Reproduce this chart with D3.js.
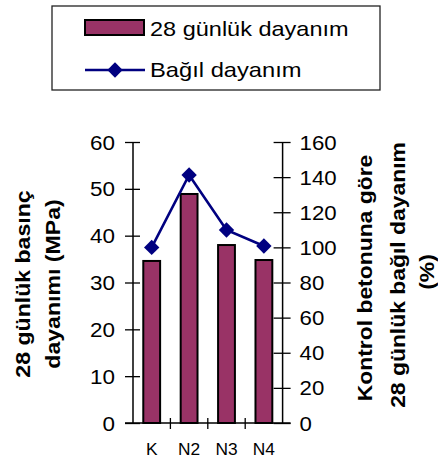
<!DOCTYPE html>
<html><head><meta charset="utf-8">
<script src="https://cdn.jsdelivr.net/npm/d3@7"></script>
<style>html,body{margin:0;padding:0;background:#fff;}svg{display:block;font-family:"Liberation Sans",Arial,sans-serif;}</style>
</head><body>
<svg id="c" width="438" height="460"></svg>
<script>
const categories = ["K", "N2", "N3", "N4"];
const strength = [34.6, 48.9, 38.0, 34.8];          // 28 günlük dayanım (MPa)
const relative = [100, 141.2, 109.9, 100.8];        // Bağıl dayanım (%)
const leftTicks = [0, 10, 20, 30, 40, 50, 60];
const rightTicks = [0, 20, 40, 60, 80, 100, 120, 140, 160];
const seriesNames = ["28 günlük dayanım", "Bağıl dayanım"];
const leftTitle = ["28 günlük basınç", "dayanımı (MPa)"];
const rightTitle = ["Kontrol betonuna göre", "28 günlük bağıl dayanım", "(%)"];

const svg = d3.select("#c");
const L = 133, R = 282.6, T = 142, B = 423;
const barColor = "#993366", lineColor = "#000080";

const x = d3.scaleBand().domain(categories).range([L, R]).paddingInner(0.55).paddingOuter(0.275);
const yL = d3.scaleLinear().domain([0, 60]).range([B, T]);
const yR = d3.scaleLinear().domain([0, 160]).range([B, T]);

function stext(g, tx, ty, txt, size, sx, anchor, weight, rot) {
  return g.append("text")
    .attr("transform", `translate(${tx},${ty})` + (rot ? ` rotate(${rot})` : "") + ` scale(${sx},1)`)
    .attr("text-anchor", anchor).attr("font-size", size).attr("font-weight", weight || "normal")
    .attr("fill", "#000").text(txt);
}

// Bars
svg.append("g").selectAll("rect").data(strength).join("rect")
  .attr("x", (d, i) => x(categories[i])).attr("width", x.bandwidth())
  .attr("y", d => yL(d)).attr("height", d => B - yL(d))
  .attr("fill", barColor).attr("stroke", "#000").attr("stroke-width", 2);

// Left axis
const ga = svg.append("g").attr("transform", `translate(${L},0)`)
  .call(d3.axisLeft(yL).tickValues(leftTicks).tickSize(8).tickFormat(""));
ga.select(".domain").attr("stroke", "#000").attr("stroke-width", 1.5).attr("d", `M0,${T}V${B}`);
ga.selectAll(".tick line").attr("x1", 7).attr("x2", -8).attr("stroke-width", 1.3);
ga.selectAll(".tick").each(function(d) {
  stext(d3.select(this), -18, 7, String(d), 19.5, 1.15, "end");
});

// Right axis
const gr = svg.append("g").attr("transform", `translate(${R},0)`)
  .call(d3.axisRight(yR).tickValues(rightTicks).tickSize(8).tickFormat(""));
gr.select(".domain").attr("stroke", "#000").attr("stroke-width", 1.5).attr("d", `M0,${T}V${B}`);
gr.selectAll(".tick line").attr("x1", -9).attr("x2", 8).attr("stroke-width", 1.3);
gr.selectAll(".tick").each(function(d) {
  stext(d3.select(this), 17, 7, String(d), 19.5, 1.14, "start");
});

// Bottom axis
const gb = svg.append("g").attr("transform", `translate(0,${B})`)
  .call(d3.axisBottom(x).tickSize(0).tickFormat(""));
gb.select(".domain").attr("stroke", "#000").attr("stroke-width", 1.5).attr("d", `M${L - 8},0H${R + 8}`);
const step = x.step();
gb.selectAll(".bt").data(categories.slice(1)).join("line")
  .attr("x1", d => x(d) - (step - x.bandwidth()) / 2).attr("x2", d => x(d) - (step - x.bandwidth()) / 2)
  .attr("y1", -5).attr("y2", 6).attr("stroke", "#000").attr("stroke-width", 1.3);
gb.selectAll(".tick").each(function(d) {
  stext(d3.select(this), 0, 32, d, 16.5, 1.05, "middle");
});

// Line series
const cx = (c) => x(c) + x.bandwidth() / 2;
svg.append("path").datum(relative)
  .attr("d", d3.line().x((d, i) => cx(categories[i])).y(d => yR(d)))
  .attr("fill", "none").attr("stroke", lineColor).attr("stroke-width", 2.6);
const diamond = d3.symbol(d3.symbolSquare, 118);
svg.append("g").selectAll("path").data(relative).join("path")
  .attr("d", diamond)
  .attr("transform", (d, i) => `translate(${cx(categories[i])},${yR(d)}) rotate(45)`)
  .attr("fill", lineColor);

// Axis titles
stext(svg, 30, 284, leftTitle[0], 21, 1.1, "middle", "bold", -90);
stext(svg, 60, 284, leftTitle[1], 21, 1.1, "middle", "bold", -90);
stext(svg, 372, 278, rightTitle[0], 21, 1.09, "middle", "bold", -90);
stext(svg, 405, 275, rightTitle[1], 21, 1.09, "middle", "bold", -90);
stext(svg, 434, 272, rightTitle[2], 21, 1.09, "middle", "bold", -90);

// Legend
const lg = svg.append("g");
lg.append("rect").attr("x", 52).attr("y", 6).attr("width", 328).attr("height", 84)
  .attr("fill", "#fff").attr("stroke", "#222").attr("stroke-width", 1.3);
lg.append("rect").attr("x", 85).attr("y", 20).attr("width", 59).attr("height", 15)
  .attr("fill", barColor).attr("stroke", "#000").attr("stroke-width", 2);
stext(lg, 150, 36, seriesNames[0], 21, 1.12, "start");
lg.append("line").attr("x1", 85).attr("x2", 145).attr("y1", 70).attr("y2", 70)
  .attr("stroke", lineColor).attr("stroke-width", 2.6);
lg.append("path").attr("d", diamond).attr("transform", "translate(115,70) rotate(45)").attr("fill", lineColor);
stext(lg, 150, 77, seriesNames[1], 21, 1.13, "start");
</script>
</body></html>
